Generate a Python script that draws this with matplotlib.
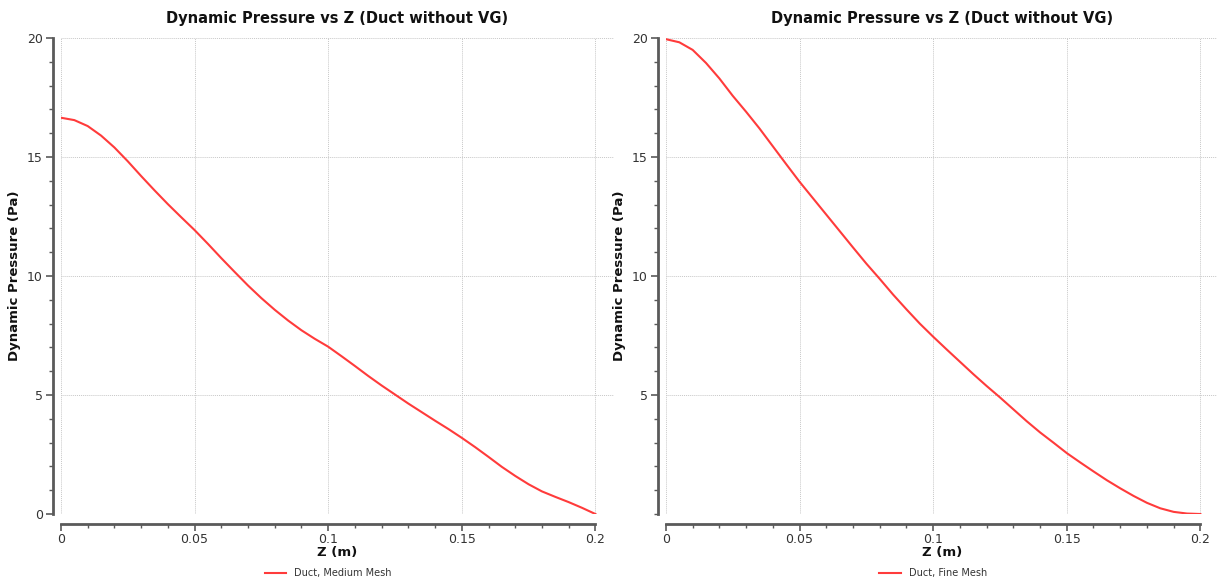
import matplotlib
matplotlib.use("Agg")
import matplotlib.pyplot as plt
import numpy as np

# Z positions (m)
z = [0.0, 0.005, 0.01, 0.015, 0.02, 0.025, 0.03, 0.035, 0.04, 0.045,
     0.05, 0.055, 0.06, 0.065, 0.07, 0.075, 0.08, 0.085, 0.09, 0.095,
     0.1, 0.105, 0.11, 0.115, 0.12, 0.125, 0.13, 0.135, 0.14, 0.145,
     0.15, 0.155, 0.16, 0.165, 0.17, 0.175, 0.18, 0.185, 0.19, 0.195, 0.2]

# dynamic pressure (Pa), medium mesh
p_medium = [16.65, 16.55, 16.3, 15.9, 15.4, 14.82, 14.2, 13.6, 13.02, 12.47,
            11.93, 11.35, 10.75, 10.17, 9.6, 9.07, 8.58, 8.13, 7.72, 7.36,
            7.03, 6.63, 6.22, 5.8, 5.4, 5.02, 4.64, 4.28, 3.92, 3.57,
            3.2, 2.81, 2.4, 1.98, 1.6, 1.25, 0.95, 0.72, 0.5, 0.26, 0.0]

# dynamic pressure (Pa), fine mesh
p_fine = [19.95, 19.82, 19.5, 18.95, 18.3, 17.57, 16.9, 16.2, 15.45, 14.7,
          13.96, 13.27, 12.58, 11.89, 11.2, 10.52, 9.88, 9.22, 8.6, 8.0,
          7.45, 6.92, 6.4, 5.88, 5.38, 4.9, 4.4, 3.9, 3.43, 3.0,
          2.56, 2.17, 1.79, 1.42, 1.08, 0.76, 0.47, 0.24, 0.09, 0.02, 0.0]

xticks = [0, 0.05, 0.1, 0.15, 0.2]
xtick_labels = ["0", "0.05", "0.1", "0.15", "0.2"]
grid_y = [0, 5, 10, 15, 20]

title = "Dynamic Pressure vs Z (Duct without VG)"
line_color = "#ff3b3b"
grid_color = "#c8c8c8"
spine_color = "#5a5a5a"
text_color = "#333333"

fig = plt.figure(figsize=(12.17, 5.81), dpi=100)

panels = [
    (0.0501, p_medium, "Duct, Medium Mesh", [0, 5, 10, 15, 20]),
    (0.5472, p_fine, "Duct, Fine Mesh", [5, 10, 15, 20]),
]

for left, p, label, yticks in panels:
    ax = fig.add_axes([left, 0.1153, 0.4545, 0.8193])
    ax.plot(z, p, color=line_color, lw=1.5, label=label)
    ax.set_xlim(0, 0.207)
    ax.set_ylim(0, 20)

    ax.set_xticks(xticks)
    ax.set_xticklabels(xtick_labels)
    ax.set_xticks(np.arange(0, 0.2001, 0.01), minor=True)
    ax.set_yticks(yticks)
    ax.set_yticks(np.arange(0, 20.01, 1), minor=True)

    for s in ["top", "right"]:
        ax.spines[s].set_visible(False)
    ax.spines["left"].set_position(("outward", 6))
    ax.spines["bottom"].set_position(("outward", 7))
    ax.spines["left"].set_bounds(0, 20)
    ax.spines["bottom"].set_bounds(0, 0.2)
    for s in ["left", "bottom"]:
        ax.spines[s].set_color(spine_color)
        ax.spines[s].set_linewidth(2)

    ax.tick_params(which="major", length=5, width=1.2, color=spine_color,
                   labelsize=9, labelcolor=text_color, pad=2)
    ax.tick_params(which="minor", length=3, width=1, color=spine_color)

    # dotted grid, incl. the 0 line
    for gx in xticks:
        ax.axvline(gx, color=grid_color, lw=0.7, ls=(0, (1, 1)), zorder=0)
    for gy in grid_y:
        ax.axhline(gy, color=grid_color, lw=0.7, ls=(0, (1, 1)), zorder=0)

    ax.set_title(title, fontsize=10.5, fontweight="bold", color="#111111", pad=11)
    ax.set_xlabel("Z (m)", fontsize=9.5, fontweight="bold", color="#111111", labelpad=0)
    ax.set_ylabel("Dynamic Pressure (Pa)", fontsize=9.5, fontweight="bold",
                  color="#111111", labelpad=4)

    ax.legend(loc="upper center", bbox_to_anchor=(0.483, -0.095), frameon=False,
              fontsize=7, handlelength=2.2, labelcolor=text_color)

fig.savefig("out.png", dpi=100)
